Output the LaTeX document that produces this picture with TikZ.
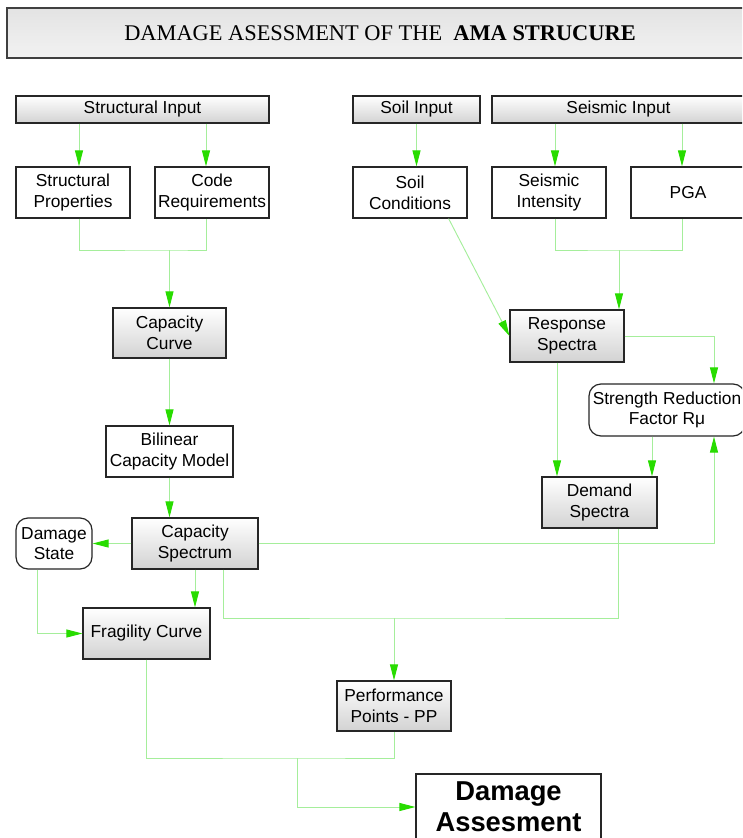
\documentclass[tikz,border=0pt]{standalone}
\usepackage{fontspec}
\setmainfont{Liberation Serif}
\setsansfont{Liberation Sans}
\usetikzlibrary{arrows.meta}
\definecolor{linegreen}{RGB}{165,238,155}
\definecolor{tipgreen}{RGB}{40,220,0}

\begin{document}
\begin{tikzpicture}[x=0.75pt, y=-0.75pt,
  >={Triangle[length=12pt,width=6pt,color=tipgreen]},
  box/.style={draw=black!85, line width=0.9pt, align=center, inner sep=1pt,
    font=\sffamily\fontsize{13}{15.5}\selectfont},
  shadebox/.style={box, top color=white, bottom color=gray!35},
  plainbox/.style={box, fill=white},
  softbox/.style={box, fill=white, rounded corners=9pt},
  link/.style={draw=linegreen, line width=0.7pt},
  flow/.style={link, ->}]
  \clip (0,0) rectangle (742,838);

  % Title bar
  \node[draw=black!75, line width=1.5pt, top color=gray!22, middle color=white,
    bottom color=gray!10, minimum width=559.5pt, minimum height=37.5pt,
    font=\rmfamily\fontsize{16.8}{19}\selectfont] (title) at (380,33)
    {DAMAGE ASESSMENT OF THE\ \ \textbf{AMA STRUCURE}};

  % Inputs
  \node[shadebox, minimum width=189.75pt, minimum height=20.25pt] (strin) at (142.5,109.5) {Structural Input};
  \node[shadebox, minimum width=95.25pt, minimum height=20.25pt] (soilin) at (416.5,109.5) {Soil Input};
  \node[shadebox, minimum width=189.75pt, minimum height=20.25pt] (seisin) at (618.5,109.5) {Seismic Input};

  \node[plainbox, minimum width=85.5pt, minimum height=38.25pt] (sprop) at (73,192.5) {Structural\\Properties};
  \node[plainbox, minimum width=85.5pt, minimum height=38.25pt] (code) at (212,192.5) {Code\\Requirements};
  \node[plainbox, minimum width=85.5pt, minimum height=38.25pt] (soilc) at (410,192.5) {Soil\\Conditions};
  \node[plainbox, minimum width=85.5pt, minimum height=38.25pt] (seisint) at (549,192.5) {Seismic\\Intensity};
  \node[plainbox, minimum width=85.5pt, minimum height=38.25pt] (pga) at (688,192.5) {PGA};

  % Capacity side (left)
  \node[shadebox, minimum width=84.75pt, minimum height=37.5pt] (capcurve) at (169.5,333) {Capacity\\Curve};
  \node[plainbox, minimum width=95.25pt, minimum height=38.25pt] (bilin) at (169.5,451.5) {Bilinear\\Capacity Model};
  \node[shadebox, minimum width=94.5pt, minimum height=38.25pt] (capspec) at (195,543.5) {Capacity\\Spectrum};
  \node[softbox, minimum width=57pt, minimum height=38.25pt] (dstate) at (54,543.5) {Damage\\State};
  \node[shadebox, minimum width=95.25pt, minimum height=38.25pt] (frag) at (146.5,633.5) {Fragility Curve};

  % Demand side (right)
  \node[shadebox, minimum width=85.5pt, minimum height=39pt] (resp) at (567,336) {Response\\Spectra};
  \node[softbox, minimum width=117pt, minimum height=39pt, inner sep=0pt] (srf) at (667,410) {Strength Reduction\\Factor Rμ};
  \node[shadebox, minimum width=86.25pt, minimum height=38.25pt] (demand) at (599.5,502.5) {Demand\\Spectra};

  % Results
  \node[shadebox, minimum width=85.5pt, minimum height=37.5pt] (pp) at (394,706) {Performance\\Points - PP};
  \node[plainbox, minimum width=138.75pt, minimum height=49.5pt,
    font=\sffamily\bfseries\fontsize{20.5}{23.5}\selectfont] (da) at (508.5,807) {Damage\\Assesment};

  \coordinate (j1) at (169.5,250);
  \coordinate (j2) at (619,250);
  \coordinate (j3) at (394,618);
  \coordinate (j4) at (297,758);

  \draw[flow] ([xshift=4.5pt]strin.south -| sprop.north) -- ([xshift=4.5pt]sprop.north);
  \draw[flow] ([xshift=-4.5pt]strin.south -| code.north) -- ([xshift=-4.5pt]code.north);
  \draw[link] ([xshift=4.5pt]sprop.south) |- (j1) -| ([xshift=-4.5pt]code.south);
  \draw[flow] (j1) -- (capcurve.north);
  \draw[flow] (capcurve.south) -- (bilin.north);
  \draw[flow] (bilin.south) -- (bilin.south |- capspec.north);
  \draw[flow] (capspec.west) -- (dstate.east);
  \draw[flow] ([xshift=-12.75pt]dstate.south) |- (frag.west);
  \draw[flow] (capspec.south) -- (capspec.south |- frag.north);

  \draw[flow] (soilin.south) -- (soilin.south |- soilc.north);
  \draw[flow] ([xshift=4.5pt]seisin.south -| seisint.north) -- ([xshift=4.5pt]seisint.north);
  \draw[flow] ([xshift=-4.5pt]seisin.south -| pga.north) -- ([xshift=-4.5pt]pga.north);
  \draw[link] ([xshift=4.5pt]seisint.south) |- (j2) -| ([xshift=-4.5pt]pga.south);
  \draw[flow] (j2) -- (j2 |- resp.north);
  \draw[flow] ([xshift=-14.25pt]soilc.south east) -- (resp.west);
  \draw[flow] (resp.east) -| ([xshift=35.25pt]srf.north);
  \draw[flow] ([xshift=-7.5pt]resp.south) -- ([xshift=-7.5pt]resp.south |- demand.north);
  \draw[flow] ([xshift=-11.25pt]srf.south) -- ([xshift=-11.25pt]srf.south |- demand.north);
  \draw[flow] (capspec.east) -| ([xshift=35.25pt]srf.south);

  \draw[link] ([xshift=21pt]capspec.south) |- (j3) -| ([xshift=13.9pt]demand.south);
  \draw[flow] (j3) -- (pp.north);
  \draw[link] (frag.south) |- (j4) -| (pp.south);
  \draw[flow] (j4) |- (da.west);
\end{tikzpicture}
\end{document}
